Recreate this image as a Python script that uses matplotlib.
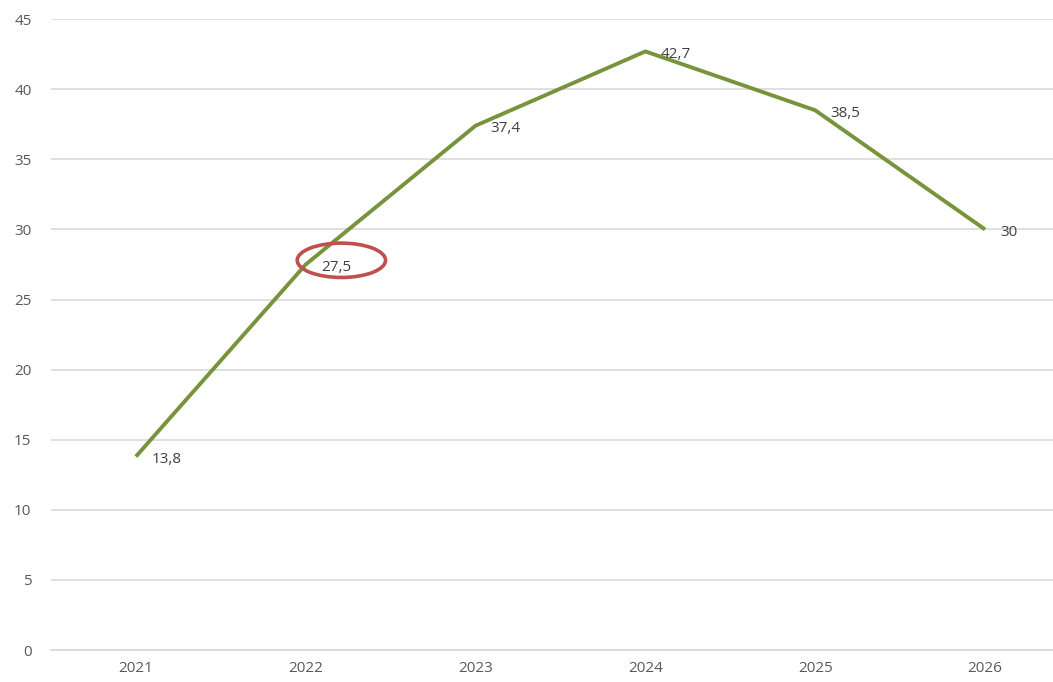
import matplotlib.pyplot as plt
from matplotlib.patches import Ellipse

years = ["2021", "2022", "2023", "2024", "2025", "2026"]
values = [13.8, 27.5, 37.4, 42.7, 38.5, 30.0]
value_labels = ["13,8", "27,5", "37,4", "42,7", "38,5", "30"]
y_ticks = [0, 5, 10, 15, 20, 25, 30, 35, 40, 45]

plt.rcParams['font.family'] = ['Open Sans', 'DejaVu Sans']

fig = plt.figure(figsize=(10.53, 6.82), dpi=100)
ax = fig.add_axes([0.0484, 0.0469, 0.9677, 0.925])

x = list(range(len(years)))
ax.plot(x, values, color="#77933C", lw=2.8, solid_capstyle="butt", zorder=3)

for xi, v, lab in zip(x, values, value_labels):
    ax.annotate(lab, (xi, v), xytext=(11, -2), textcoords="offset points",
                ha="left", va="center", fontsize=11, color="#404040", zorder=4)

# red highlight around the 2022 value
ax.add_patch(Ellipse((1.21, 27.8), 0.52, 2.45, fill=False,
                     edgecolor="#C0504D", lw=2.6, zorder=5))

ax.set_xlim(-0.5, 5.5)
ax.set_ylim(0, 45)
ax.set_xticks(x)
ax.set_xticklabels(years)
ax.set_yticks(y_ticks)
ax.tick_params(axis="both", length=0, labelsize=11, labelcolor="#595959")
ax.tick_params(axis="x", pad=8)
ax.tick_params(axis="y", pad=14)
ax.grid(axis="y", color="#D9D9D9", lw=1.2)
ax.set_axisbelow(True)
for s in ["top", "right", "left"]:
    ax.spines[s].set_visible(False)
ax.spines["bottom"].set_color("#D9D9D9")
ax.spines["bottom"].set_linewidth(1.2)

fig.savefig("out.png", dpi=100)
